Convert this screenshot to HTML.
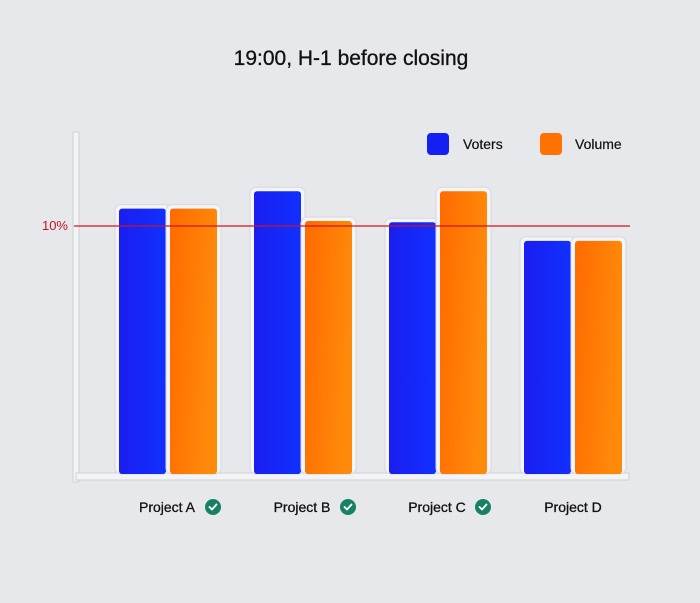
<!DOCTYPE html>
<html><head><meta charset="utf-8"><style>
body{margin:0;width:700px;height:598px;background:#e7e8ec;overflow:hidden;font-family:"Liberation Sans",sans-serif}
</style></head><body>
<svg id="chart" width="700" height="598" xmlns="http://www.w3.org/2000/svg">
<defs>
<linearGradient id="gb" x1="0" x2="1"><stop offset="0" stop-color="#1a1ef0"/><stop offset="1" stop-color="#1030ff"/></linearGradient>
<linearGradient id="go" x1="0" x2="1" y1="0" y2="0.3"><stop offset="0" stop-color="#ff6a00"/><stop offset="1" stop-color="#ff8a0a"/></linearGradient>
</defs>
<text x="351" y="65" text-anchor="middle" font-size="21" fill="#111" stroke="#111" stroke-width="0.3">19:00, H-1 before closing</text>
<rect x="73" y="132" width="6" height="350" fill="#f3f4f6" stroke="#cfd1d6" stroke-width="1"/>
<rect x="76" y="473" width="553" height="7" fill="#f3f4f6" stroke="#cfd1d6" stroke-width="1"/>
<g id="bars"></g>
<line x1="74" x2="630" y1="226" y2="226" stroke="#d0141c" stroke-width="1.3"/>
<text x="68" y="230" text-anchor="end" font-size="13" fill="#c0141c">10%</text>
<g>
<rect x="427" y="133" width="22" height="22" rx="4" fill="#1420f2"/>
<text x="463" y="149" font-size="14" fill="#111" stroke="#111" stroke-width="0.2">Voters</text>
<rect x="540" y="133" width="22" height="22" rx="4" fill="#ff7200"/>
<text x="575" y="149" font-size="14" fill="#111" stroke="#111" stroke-width="0.2">Volume</text>
</g>
<g id="labels"></g>
</svg>
<script>
const categories=["Project A","Project B","Project C","Project D"];
const voters=[10.7,11.4,10.15,9.4];
const volume=[10.7,10.2,11.4,9.4];
const approved=[true,true,true,false];
const ns="http://www.w3.org/2000/svg";
const base=474, pxPer=24.8;
function y(v){return base-v*pxPer;}
function gx(i){return 119+i*135;}
const bars=document.getElementById('bars'), labels=document.getElementById('labels');
function mk(t,a){const e=document.createElementNS(ns,t);for(const k in a)e.setAttribute(k,a[k]);return e;}
categories.forEach((c,i)=>{
 [[voters[i],0,'url(#gb)','voters'],[volume[i],51,'url(#go)','volume']].forEach(([v,off,f,s])=>{
  const x=gx(i)+off, top=y(v);
  const fr=mk('rect',{x:x-4,y:top-4,width:55,height:base-top+4,rx:6,fill:'#f4f5f7',stroke:'#d6d8dd'});
  
  
  bars.appendChild(fr);
  const r=mk('rect',{x:x,y:top,width:47,height:base-top,rx:3,fill:f});
  
  
  bars.appendChild(r);
 });
 const cx=gx(i)+49 + (approved[i]?-1:0);
 const t=mk('text',{x:cx,y:512,'text-anchor':'middle','font-size':14,fill:'#111',stroke:'#111','stroke-width':0.3});
 t.textContent=c;
 
 
 labels.appendChild(t);
 if(approved[i]){
  const ix=cx+46;
  const g=mk('g',{});
  
  
  g.appendChild(mk('circle',{cx:ix,cy:507,r:8,fill:'#178263'}));
  g.appendChild(mk('path',{d:`M${ix-3.5} ${507} l2.5 2.5 l4.5 -5`,stroke:'#fff','stroke-width':1.8,fill:'none','stroke-linecap':'round'}));
  labels.appendChild(g);
 }
});
</script>
</body></html>
